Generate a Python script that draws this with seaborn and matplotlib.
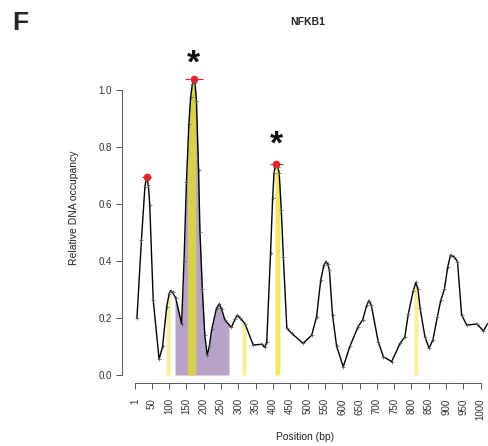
import numpy as np
import pandas as pd
import matplotlib
matplotlib.use("Agg")
import matplotlib.pyplot as plt
import seaborn as sns

# ---- data ----
positions = [7, 20, 30, 35, 40, 44, 54, 71, 81, 93, 100, 104, 110, 119, 136, 143, 150,
             157, 162, 167, 171, 175, 179, 185, 189, 196, 203, 210, 216, 223, 237, 245,
             252, 261, 280, 290, 297, 305, 319, 343, 367, 377, 382, 393, 399, 403, 406,
             410, 414, 418, 424, 430, 440, 454, 487, 512, 526, 538, 547, 553, 558, 563,
             572, 584, 603, 622, 646, 659, 671, 677, 684, 704, 719, 743, 767, 781, 791,
             805, 813, 819, 825, 839, 851, 862, 875, 885, 895, 905, 913, 923, 933, 945,
             960, 989, 1008, 1020]
occupancy = [0.199, 0.474, 0.660, 0.696, 0.665, 0.596, 0.263, 0.055, 0.100, 0.240,
             0.285, 0.296, 0.290, 0.270, 0.180, 0.400, 0.678, 0.880, 0.974, 1.020,
             1.037, 1.025, 0.960, 0.720, 0.503, 0.300, 0.140, 0.070, 0.100, 0.160,
             0.235, 0.250, 0.230, 0.193, 0.167, 0.195, 0.210, 0.200, 0.180, 0.105,
             0.108, 0.097, 0.117, 0.427, 0.620, 0.708, 0.730, 0.740, 0.730, 0.708,
             0.580, 0.413, 0.164, 0.146, 0.111, 0.140, 0.205, 0.333, 0.385, 0.398,
             0.390, 0.368, 0.210, 0.100, 0.029, 0.100, 0.170, 0.193, 0.245, 0.261,
             0.245, 0.117, 0.064, 0.047, 0.111, 0.134, 0.214, 0.295, 0.325, 0.300,
             0.234, 0.134, 0.094, 0.123, 0.205, 0.263, 0.300, 0.380, 0.421, 0.415,
             0.398, 0.210, 0.175, 0.179, 0.155, 0.180]

peak_pos = [35, 171, 410]
peak_val = [0.696, 1.037, 0.740]
peak_err = [12, 26, 19]
star_pos = [171, 410]
star_val = [1.09, 0.805]

regions_start = [91, 117, 153, 310, 406, 807]
regions_end = [103, 273, 177, 322, 420, 819]
regions_color = ["#f6f09c", "#b8a3c8", "#d8cf4c", "#f6f09c", "#f2e65e", "#f6f09c"]

tick_pos = [1] + list(range(50, 1001, 50))
tick_labels = [str(t) for t in tick_pos]

# ---- style ----
sns.set_theme(style="ticks")
plt.rcParams['font.family'] = ['Liberation Sans', 'DejaVu Sans']

fig = plt.figure(figsize=(4.89, 4.46), dpi=100)
ax = fig.add_axes([0.2489, 0.1413, 0.7482, 0.7848])

df = pd.DataFrame({"pos": positions, "occ": occupancy})

# shaded regions (filled up to the curve)
for s, e, c in zip(regions_start, regions_end, regions_color):
    xs = np.linspace(s, e, 60)
    ys = np.interp(xs, positions, occupancy)
    ax.fill_between(xs, 0, ys, color=c, linewidth=0, zorder=1)

sns.lineplot(data=df, x="pos", y="occ", ax=ax, color="black", linewidth=1.0,
             marker="+", markersize=3, markeredgecolor="#555555",
             markeredgewidth=0.5, zorder=3)

# peaks
ax.errorbar(peak_pos, peak_val, xerr=peak_err, fmt="o", color="#e3242b",
            markersize=4.5, elinewidth=0.8, capsize=0, zorder=4)
for sp, sv in zip(star_pos, star_val):
    ax.text(sp, sv, "*", ha="center", va="center", fontsize=24,
            fontweight="bold", color="#111111")

ax.set_xlim(-37, 1020)
ax.set_ylim(-0.028, 1.2)
ax.set_xticks(tick_pos)
ax.set_xticklabels(tick_labels, rotation=90, fontsize=7, color="#333333")
ax.set_yticks([0.0, 0.2, 0.4, 0.6, 0.8, 1.0])
ax.set_yticklabels(["0.0", "0.2", "0.4", "0.6", "0.8", "1.0"], fontsize=7, color="#333333")

for side in ["top", "right"]:
    ax.spines[side].set_visible(False)
ax.spines["left"].set_bounds(0, 1.0)
ax.spines["bottom"].set_bounds(1, 1000)
for side in ["left", "bottom"]:
    ax.spines[side].set_color("#555555")
    ax.spines[side].set_linewidth(0.7)
ax.tick_params(axis="both", length=4, width=0.7, color="#555555")
ax.tick_params(axis="x", pad=7)
ax.tick_params(axis="y", pad=3)

ax.set_xlabel("Position (bp)", fontsize=7.5, color="#222222", labelpad=9)
ax.set_ylabel("Relative DNA occupancy", fontsize=7.5, color="#222222", labelpad=14)

fig.text(308 / 489, 1 - 22 / 446, "NFKB1", ha="center", va="center",
         fontsize=7.5, fontweight="bold")
fig.text(20 / 489, 1 - 23 / 446, "F", ha="center", va="center",
         fontsize=19, fontweight="heavy")

fig.savefig("out.png", dpi=100)
